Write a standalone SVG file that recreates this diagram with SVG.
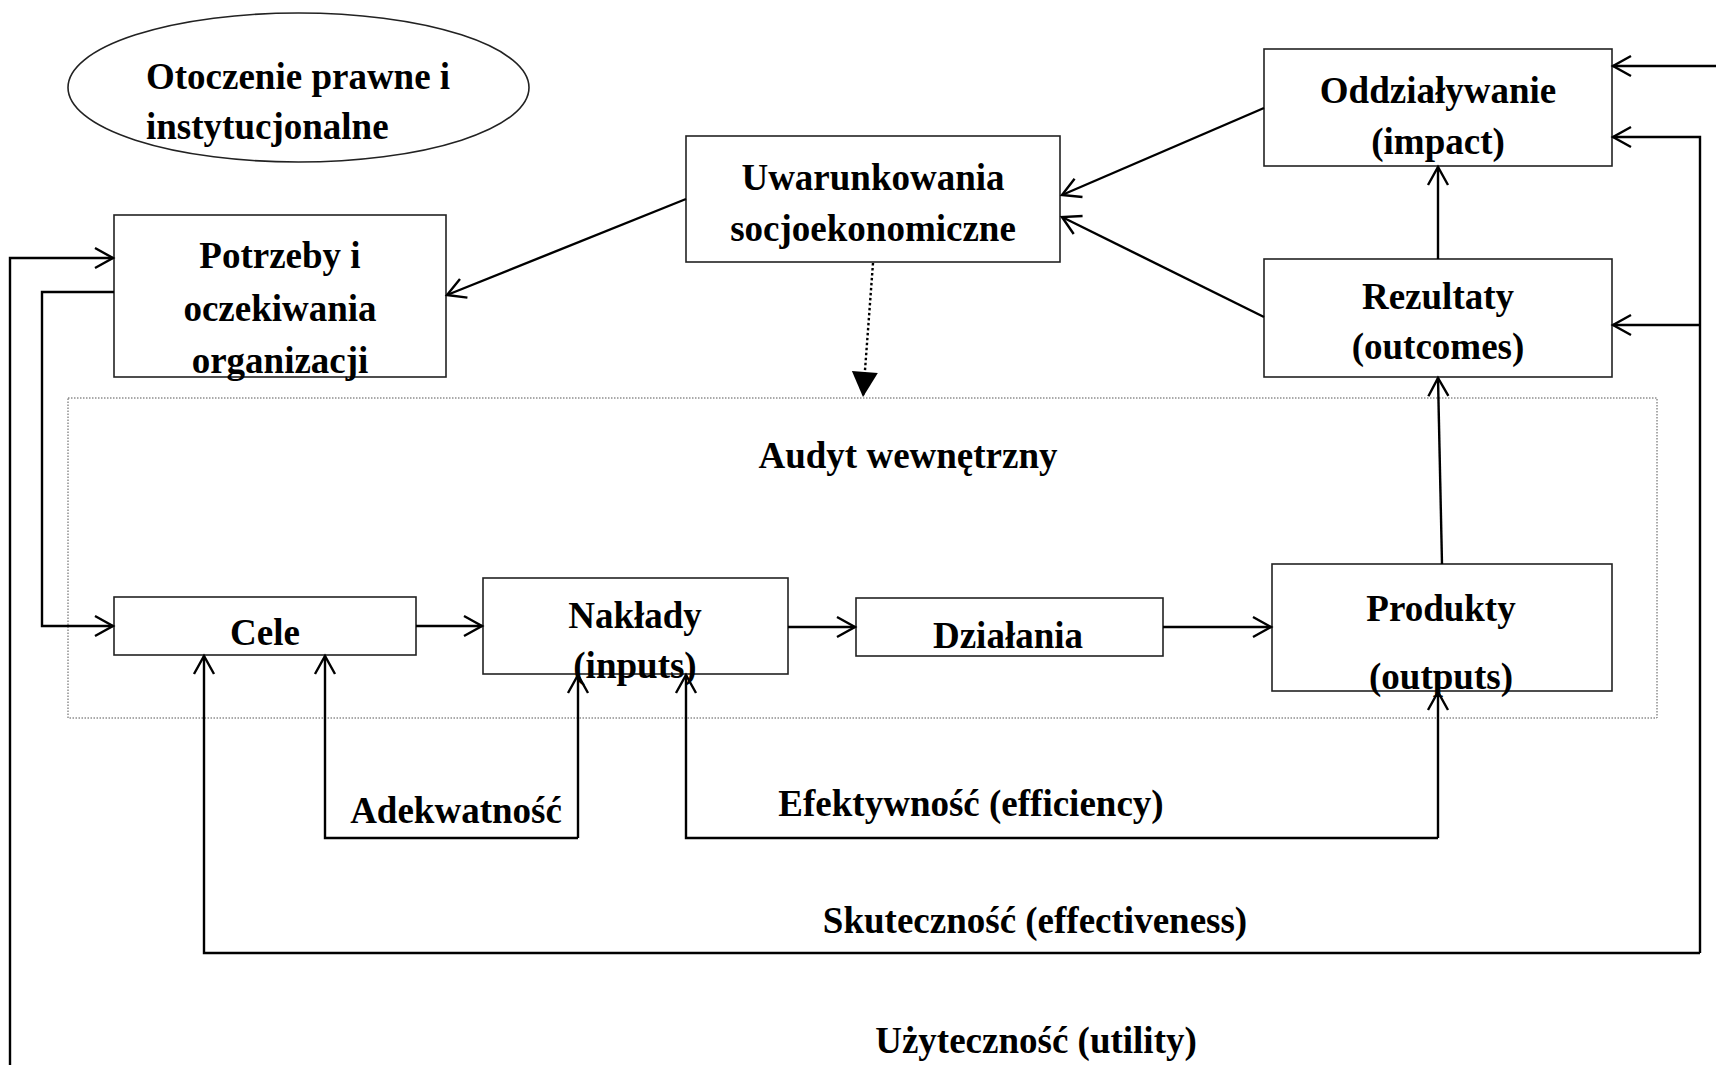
<svg xmlns="http://www.w3.org/2000/svg" width="1716" height="1065" viewBox="0 0 1716 1065">
<style>
.box{fill:#fff;stroke:#222;stroke-width:1.6}
.t{font-family:"Liberation Serif","Times New Roman",serif;font-weight:bold;font-size:37px;fill:#000}
.m{text-anchor:middle}
.c{fill:none;stroke:#000;stroke-width:2.4}
</style>
<defs>
<marker id="ah" markerUnits="userSpaceOnUse" markerWidth="26" markerHeight="26" refX="21" refY="13" orient="auto">
<path d="M3,3 L21,13 L3,23" fill="none" stroke="#000" stroke-width="2.4"/>
</marker>
<marker id="tri" markerUnits="userSpaceOnUse" markerWidth="28" markerHeight="28" refX="26" refY="13" orient="auto">
<path d="M1,0 L26,13 L1,26 Z" fill="#000"/>
</marker>
</defs>
<rect width="1716" height="1065" fill="#fff"/>

<g id="container">
<rect x="68" y="398" width="1589" height="320" fill="none" stroke="#555" stroke-width="1" stroke-dasharray="1.5 1.5"/>
<text class="t m" x="908" y="468">Audyt wewnętrzny</text>
</g>

<g id="otoczenie">
<ellipse cx="298.5" cy="87.5" rx="230.5" ry="74.5" fill="#fff" stroke="#222" stroke-width="1.6"/>
<text class="t" x="146" y="89">Otoczenie prawne i</text>
<text class="t" x="146" y="139">instytucjonalne</text>
</g>

<g id="potrzeby">
<rect class="box" x="114" y="215" width="332" height="162"/>
<text class="t m" x="280" y="268">Potrzeby i</text>
<text class="t m" x="280" y="321">oczekiwania</text>
<text class="t m" x="280" y="373">organizacji</text>
</g>

<g id="uwarunkowania">
<rect class="box" x="686" y="136" width="374" height="126"/>
<text class="t m" x="873" y="190">Uwarunkowania</text>
<text class="t m" x="873" y="241">socjoekonomiczne</text>
</g>

<g id="oddzialywanie">
<rect class="box" x="1264" y="49" width="348" height="117"/>
<text class="t m" x="1438" y="103">Oddziaływanie</text>
<text class="t m" x="1438" y="154">(impact)</text>
</g>

<g id="rezultaty">
<rect class="box" x="1264" y="259" width="348" height="118"/>
<text class="t m" x="1438" y="309">Rezultaty</text>
<text class="t m" x="1438" y="359">(outcomes)</text>
</g>

<g id="cele">
<rect class="box" x="114" y="597" width="302" height="58"/>
<text class="t m" x="265" y="645">Cele</text>
</g>

<g id="naklady">
<rect class="box" x="483" y="578" width="305" height="96"/>
<text class="t m" x="635" y="628">Nakłady</text>
<text class="t m" x="635" y="678">(inputs)</text>
</g>

<g id="dzialania">
<rect class="box" x="856" y="598" width="307" height="58"/>
<text class="t m" x="1008" y="648">Działania</text>
</g>

<g id="produkty">
<rect class="box" x="1272" y="564" width="340" height="127"/>
<text class="t m" x="1441" y="621">Produkty</text>
<text class="t m" x="1441" y="689">(outputs)</text>
</g>

<g id="connectors">
<path class="c" d="M686,199 L447,295" marker-end="url(#ah)"/>
<path class="c" d="M1264,108 L1062,195" marker-end="url(#ah)"/>
<path class="c" d="M1264,317 L1062,217" marker-end="url(#ah)"/>
<path class="c" d="M1438,259 L1438,167" marker-end="url(#ah)"/>
<path class="c" d="M1442,564 L1438,378" marker-end="url(#ah)"/>
<path d="M873,263 L863,397" fill="none" stroke="#000" stroke-width="2.4" stroke-dasharray="2.5 2.5" marker-end="url(#tri)"/>
<path class="c" d="M416,626 L482,626" marker-end="url(#ah)"/>
<path class="c" d="M788,627 L855,627" marker-end="url(#ah)"/>
<path class="c" d="M1163,627 L1271,627" marker-end="url(#ah)"/>
<path class="c" d="M114,292 L42,292 L42,626 L113,626" marker-end="url(#ah)"/>
<path class="c" d="M10,1065 L10,258 L113,258" marker-end="url(#ah)"/>
<path class="c" d="M578,838 L325,838 L325,656" marker-end="url(#ah)"/>
<path class="c" d="M578,838 L578,675" marker-end="url(#ah)"/>
<text class="t m" x="456" y="823">Adekwatność</text>
<path class="c" d="M1438,838 L686,838 L686,675" marker-end="url(#ah)"/>
<path class="c" d="M1438,838 L1438,692" marker-end="url(#ah)"/>
<text class="t m" x="971" y="816">Efektywność (efficiency)</text>
<path class="c" d="M1700,953 L204,953 L204,656" marker-end="url(#ah)"/>
<path class="c" d="M1700,953 L1700,137 L1613,137" marker-end="url(#ah)"/>
<path class="c" d="M1700,325 L1613,325" marker-end="url(#ah)"/>
<path class="c" d="M1716,66 L1613,66" marker-end="url(#ah)"/>
<text class="t m" x="1035" y="933">Skuteczność (effectiveness)</text>
<text class="t m" x="1036" y="1053">Użyteczność (utility)</text>
</g>
</svg>
